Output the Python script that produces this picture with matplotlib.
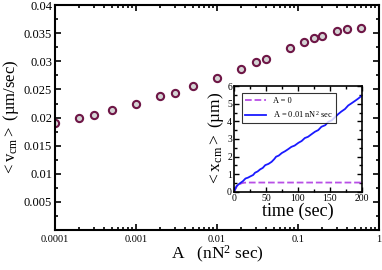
import numpy as np
import matplotlib
matplotlib.use("Agg")
import matplotlib.pyplot as plt
from matplotlib.ticker import MultipleLocator, LogLocator, NullFormatter, FixedLocator

plt.rcParams['font.family'] = ['Liberation Serif', 'DejaVu Serif']
plt.rcParams['mathtext.fontset'] = 'custom'
plt.rcParams['mathtext.rm'] = 'Liberation Serif'
plt.rcParams['mathtext.it'] = 'Liberation Serif:italic'

# main data: drift velocity vs A
A_vals = [1e-4, 2e-4, 3e-4, 5e-4, 1e-3, 2e-3, 3e-3, 5e-3, 0.01, 0.02, 0.03,
          0.04, 0.08, 0.12, 0.16, 0.2, 0.3, 0.4, 0.6]
v_cm = [0.0190, 0.0199, 0.0204, 0.0213, 0.0225, 0.0238, 0.0244, 0.0256, 0.0270,
        0.0287, 0.0299, 0.0305, 0.0324, 0.0334, 0.0341, 0.0345, 0.0354, 0.0357, 0.0360]

# inset data: <x_cm> vs time
t_zero = [0, 4, 8, 12, 16, 20, 40, 80, 120, 160, 200]
x_zero = [0, 0.28, 0.42, 0.48, 0.51, 0.52, 0.52, 0.52, 0.52, 0.52, 0.52]
t_blue = [0, 4, 9, 14, 18, 22, 25, 30, 33, 37, 41, 45, 49, 54, 59, 63, 66, 70, 75,
          80, 85, 90, 95, 101, 106, 111, 116, 122, 127, 132, 137, 143, 148, 153,
          158, 163, 168, 174, 179, 184, 190, 195, 200]
x_blue = [0, 0.32, 0.47, 0.6, 0.75, 0.8, 0.86, 0.95, 1.08, 1.15, 1.27, 1.35, 1.51,
          1.58, 1.70, 1.85, 1.99, 2.05, 2.2, 2.30, 2.42, 2.55, 2.62, 2.78, 2.88,
          3.05, 3.12, 3.28, 3.41, 3.50, 3.69, 3.78, 3.98, 4.05, 4.22, 4.40, 4.55,
          4.70, 4.90, 5.02, 5.17, 5.30, 5.45]

fig = plt.figure(figsize=(3.82, 2.70), dpi=100)
ax = fig.add_axes([0.144, 0.148, 0.848, 0.833])

ax.plot(A_vals, v_cm, 'o', ms=5.2, mfc='#d4d4d4', mec='#6e1646', mew=1.5)
ax.set_xscale('log')
ax.set_xlim(1e-4, 1)
ax.set_ylim(0, 0.04)
ax.yaxis.set_major_locator(FixedLocator([0.005, 0.01, 0.015, 0.02, 0.025, 0.03, 0.035, 0.04]))
ax.yaxis.set_minor_locator(MultipleLocator(0.0025))
ax.set_yticklabels(['0.005', '0.01', '0.015', '0.02', '0.025', '0.03', '0.035', '0.04'])
ax.set_xticks([1e-4, 1e-3, 1e-2, 1e-1, 1])
ax.set_xticklabels(['0.0001', '0.001', '0.01', '0.1', '1'])
ax.xaxis.set_minor_locator(LogLocator(base=10, subs=np.arange(2, 10), numticks=20))
ax.xaxis.set_minor_formatter(NullFormatter())
ax.tick_params(which='both', direction='in', top=True, right=True, width=1.2)
ax.tick_params(which='major', length=4)
ax.tick_params(which='minor', length=2.5)
ax.tick_params(axis='y', labelsize=9, pad=2)
ax.tick_params(axis='x', labelsize=7.5, pad=3.5)
for s in ax.spines.values():
    s.set_linewidth(1.5)
ax.set_xlabel(r'A   (nN$^2$ sec)', fontsize=12.5, labelpad=0)
ax.set_ylabel(r'$<\mathrm{v}_{\mathrm{cm}}>$ (µm/sec)', fontsize=12, labelpad=2)

# inset
ins = fig.add_axes([0.6126, 0.29, 0.334, 0.391])
ins.plot(t_zero, x_zero, '--', color='#b84fe6', lw=1.3, label='A = 0')
ins.plot(t_blue, x_blue, '-', color='#1a1aff', lw=1.3, label=r'A = 0.01 nN$^2$ sec')
ins.set_xlim(0, 200)
ins.set_ylim(0, 6)
ins.xaxis.set_major_locator(MultipleLocator(50))
ins.xaxis.set_minor_locator(MultipleLocator(25))
ins.yaxis.set_major_locator(MultipleLocator(1))
ins.yaxis.set_minor_locator(MultipleLocator(0.5))
ins.tick_params(which='both', direction='in', top=True, right=True, width=1.0,
                labelsize=7, pad=1.5)
ins.tick_params(which='major', length=3.5)
ins.tick_params(which='minor', length=2)
for s in ins.spines.values():
    s.set_linewidth(1.2)
ins.set_xlabel('time (sec)', fontsize=13, labelpad=0)
ins.set_ylabel(r'$<\mathrm{x}_{\mathrm{cm}}>$ (µm)', fontsize=12.5, labelpad=1)
leg = ins.legend(loc='upper left', fontsize=6, frameon=True, fancybox=False,
                 edgecolor='black', handlelength=2.5, borderpad=0.4,
                 labelspacing=0.5, bbox_to_anchor=(0.03, 0.97))
leg.get_frame().set_linewidth(0.8)

fig.savefig('out.png', dpi=100)
